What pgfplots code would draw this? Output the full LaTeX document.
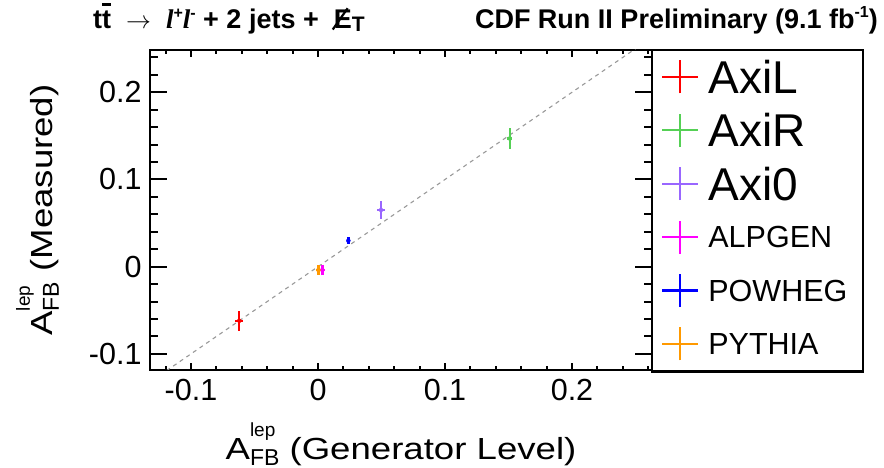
\documentclass[border=0pt]{standalone}
\usepackage{fontspec}
\setmainfont{Liberation Sans}
\newfontfamily\labfont[FakeStretch=1.2]{Liberation Sans}
\newfontfamily\timesfont{Liberation Serif}
\usepackage{pgfplots}
\pgfplotsset{compat=1.18}

\definecolor{cAxiL}{HTML}{FF0000}
\definecolor{cAxiR}{HTML}{55D055}
\definecolor{cAxiZ}{HTML}{9966FF}
\definecolor{cAlp}{HTML}{FF00FF}
\definecolor{cPow}{HTML}{0000FF}
\definecolor{cPyt}{HTML}{FF9900}

\pgfplotsset{
  % cross-shaped legend entry in the colour of the series
  xlegend/.style={legend image code/.code={
    \draw[line width=2.2pt,#1] (0pt,0pt)--(36pt,0pt) (18pt,-16.5pt)--(18pt,16.5pt);}},
  genpoint/.style={only marks, mark=none, color=#1, xlegend=#1,
    error bars/.cd, x dir=both, x explicit, y dir=both, y explicit,
    error mark=none, error bar style={line width=2.4pt, color=#1}},
}

\newcommand{\afb}{A\rlap{\raisebox{23pt}{\normalfont\fontsize{19}{19}\selectfont lep}}%
  \raisebox{-6pt}{\normalfont\fontsize{23}{23}\selectfont FB}}

\begin{document}
\begin{tikzpicture}
\useasboundingbox (0,0) rectangle (884pt,468pt);

\begin{axis}[
  at={(150pt,98pt)}, anchor=south west,
  scale only axis, width=502pt, height=320pt,
  xmin=-0.1323, xmax=0.263, ymin=-0.1185, ymax=0.2485,
  axis line style={line width=2.5pt},
  xtick={-0.1,0,0.1,0.2}, xticklabels={-0.1,0,0.1,0.2},
  ytick={-0.1,0,0.1,0.2}, yticklabels={-0.1,0,0.1,0.2},
  xticklabel pos=lower, yticklabel pos=left,
  major tick length=7pt,
  every tick/.append style={black, line width=2pt},
  tick label style={font=\fontsize{30.5}{30.5}\selectfont},
  xticklabel style={yshift=-6pt},
  yticklabel style={xshift=-5pt},
  xlabel={\labfont\fontsize{30.5}{30.5}\selectfont\afb\ (Generator Level)},
  xlabel style={at={([yshift=-90pt]axis description cs:0.5,0)}, anchor=base, inner sep=0pt},
  ylabel={\labfont\fontsize{30.5}{30.5}\selectfont\afb\ (Measured)},
  ylabel style={at={([xshift=-97pt]axis description cs:0,0.5)}, anchor=base, inner sep=0pt},
  legend cell align=left,
  legend style={at={([xshift=9pt]rel axis cs:1,1)}, anchor=north west,
    draw=none, fill=none, inner sep=0pt, row sep=0pt, column sep=9pt,
    nodes={inner sep=0pt, text depth=0pt, minimum height=53.4pt}},
]
% measured = generator line
\addplot[forget plot, color=black!40, line width=1.1pt, dash pattern=on 4pt off 4pt]
  coordinates {(-0.14,-0.14) (0.27,0.27)};

\addplot[genpoint=cAxiL] coordinates {(-0.062,-0.062) +- (0.003,0.0115)};
\addlegendentry{\fontsize{46}{46}\selectfont AxiL}
\addplot[genpoint=cAxiR] coordinates {(0.151,0.147) +- (0.002,0.0115)};
\addlegendentry{\fontsize{46}{46}\selectfont AxiR}
\addplot[genpoint=cAxiZ] coordinates {(0.0496,0.065) +- (0.003,0.0107)};
\addlegendentry{\fontsize{46}{46}\selectfont Axi0}
\addplot[genpoint=cAlp] coordinates {(0.0034,-0.0038) +- (0.002,0.0058)};
\addlegendentry{\fontsize{30.5}{30.5}\selectfont ALPGEN}
\addplot[genpoint=cPow] coordinates {(0.0239,0.0298) +- (0.0012,0.0039)};
\addlegendentry{\fontsize{30.5}{30.5}\selectfont POWHEG}
\addplot[genpoint=cPyt] coordinates {(0.0003,-0.0038) +- (0.002,0.0058)};
\addlegendentry{\fontsize{30.5}{30.5}\selectfont PYTHIA}

% tick marks on all four sides: short on x, long on y
\pgfplotsinvokeforeach{-0.1,0,0.1,0.2}{
  \draw[line width=2pt] (axis cs:#1,-0.1185) -- ++(0pt,7pt);
  \draw[line width=2pt] (axis cs:#1,0.2485) -- ++(0pt,-7pt);
  \draw[line width=2pt] (axis cs:-0.1323,#1) -- ++(17pt,0pt);
  \draw[line width=2pt] (axis cs:0.263,#1) -- ++(-17pt,0pt);
}
\pgfplotsinvokeforeach{-0.12,-0.08,-0.06,-0.04,-0.02,0.02,0.04,0.06,0.08,0.12,0.14,0.16,0.18,0.22,0.24,0.26}{
  \draw[line width=2pt] (axis cs:#1,-0.1185) -- ++(0pt,4pt);
  \draw[line width=2pt] (axis cs:#1,0.2485) -- ++(0pt,-4pt);
}
\pgfplotsinvokeforeach{-0.08,-0.06,-0.04,-0.02,0.02,0.04,0.06,0.08,0.12,0.14,0.16,0.18,0.22,0.24}{
  \draw[line width=2pt] (axis cs:-0.1323,#1) -- ++(8pt,0pt);
  \draw[line width=2pt] (axis cs:0.263,#1) -- ++(-8pt,0pt);
}
\end{axis}

% legend frame
\draw[line width=2.5pt] (652pt,96.5pt) rectangle (863pt,418pt);

% titles
\node[anchor=base west, inner sep=0pt] at (93pt,439pt) {\fontsize{27}{27}\selectfont\bfseries
  t\rlap{\raisebox{23pt}{\rule{9pt}{2.5pt}}}t\ \ $\rightarrow$\ \
  {\timesfont\itshape l}\raisebox{10pt}{\fontsize{16}{16}\selectfont +}%
  {\timesfont\itshape l}\raisebox{10pt}{\fontsize{16}{16}\selectfont -}
  + 2 jets + \ \rlap{\kern-2pt\raisebox{9pt}{\rotatebox[origin=c]{55}{\rule{26pt}{2.2pt}}}}%
  E\raisebox{-3pt}{\fontsize{21}{21}\selectfont T}};
\node[anchor=base east, inner sep=0pt] at (878pt,439pt) {\fontsize{27}{27}\selectfont\bfseries
  CDF Run II Preliminary (9.1 fb\raisebox{11pt}{\fontsize{16}{16}\selectfont -1})};
\end{tikzpicture}
\end{document}
